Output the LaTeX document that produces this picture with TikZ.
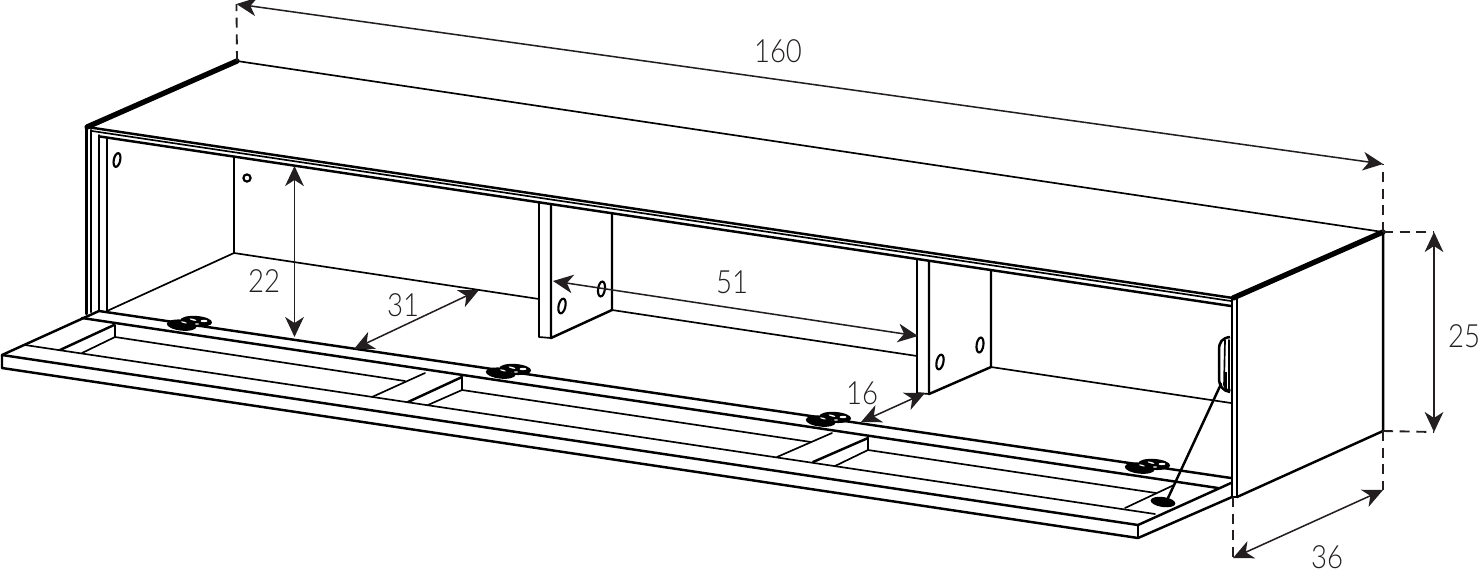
\documentclass[tikz,border=0pt]{standalone}
\usepackage{fontspec}
\setmainfont{Lato Light}
\usetikzlibrary{arrows.meta}
\definecolor{dimc}{HTML}{231F20}
\tikzset{
  x=0.75pt,y=-0.75pt,
  ln/.style={line width=1.85pt,black,line cap=round,line join=round},
  thn/.style={line width=1.25pt,black,line cap=round,line join=round},
  thk/.style={line width=4pt,black,line cap=round},
  dimline/.style={line width=1.15pt,dimc,{Stealth[length=15pt,width=14pt,inset=4.5pt]}-{Stealth[length=15pt,width=14pt,inset=4.5pt]}},
  ext/.style={line width=1.4pt,dimc,dash pattern=on 7.5pt off 5pt},
  hole/.style={line width=1.6pt,black},
  lbl/.style={font=\fontsize{24pt}{26pt}\selectfont,text=dimc,inner sep=0pt,xscale=.86},
  clip blob/.pic={
    \fill[black,rotate=-6] (-8,3) ellipse (15 and 5.5);
    \fill[black,rotate=-4] (6,-2) ellipse (16 and 5.5);
    \fill[white,rotate=-15] (2,-4) ellipse (3.5 and .8);
    \fill[white,rotate=-15] (-6,1) ellipse (3 and .7);
    \fill[white] (14,-2) ellipse (3.5 and 1.2);
    \fill[white] (7,1) ellipse (2 and .7);
  }
}
\begin{document}
\begin{tikzpicture}
\useasboundingbox (0,0) rectangle (1480,576);
% cabinet outline
\coordinate (tbl) at (237,61);
\coordinate (tbr) at (1383,232);
\coordinate (tfl) at (87,127);
\coordinate (tfr) at (1233,298);
\coordinate (bfr) at (1233,497);
\coordinate (bbr) at (1383,431);
\draw[thk] (tbl) -- (tfl);
\draw[thk] (tbr) -- (tfr);
\draw[thn] (tbl) -- (tbr);
\draw[ln] (tfl) -- (tfr);
\draw[thn] (92,131) -- (1231,301);
\draw[ln] (100,136.5) -- (1231,306);
% right side
\draw[ln] (1232,298) -- (1232,497) -- (1237,497) -- (1237,298);
\draw[ln] (1237,497) -- (bbr) -- (tbr);
% left post
\draw[ln] (86.5,127) -- (86.5,314);
\draw[ln] (91,130) -- (91,312);
\draw[thn] (99,135) -- (99,311);
\draw[ln] (107,138) -- (107,311);
% interior back
\draw[thn] (234,157) -- (234,253);
\draw[thn] (107,311) -- (234,253) -- (539,299);
\draw[thn] (612,310) -- (917,356);
\draw[thn] (991,367) -- (1231,403);
% divider 1
\draw[thn] (539,203) -- (539,337) -- (551,338);
\draw[ln] (551,205) -- (551,338) -- (612,310) -- (612,214);
% divider 2
\draw[thn] (917,259) -- (917,393) -- (929,394);
\draw[ln] (929,261) -- (929,394) -- (991,367) -- (991,270);
% flap
\draw[ln] (2,355) -- (99,311) -- (1231,478);
\draw[ln] (2,355) -- (1138,525) -- (1231,483);
\draw[ln] (2,355) -- (2,368) -- (1138,538) -- (1232,497);
\draw[thn] (1138,525) -- (1138,538);
\draw[ln] (82,318) -- (1218,488);
\draw[thn] (25,345) -- (1155,514);
% recess
\draw[ln] (60,350) -- (114,325);
\draw[thn] (115,325) -- (115,337);
\draw[thn] (82,353) -- (115,337) -- (405,381);
\draw[thn] (372,397) -- (425,373);
\draw[ln] (408,402) -- (462,377);
\draw[thn] (462,377) -- (462,390);
\draw[thn] (428,405) -- (462,390) -- (811,442);
\draw[thn] (777,457) -- (832,433);
\draw[ln] (813,462) -- (868,438);
\draw[thn] (868,438) -- (868,450);
\draw[thn] (835,466) -- (868,450) -- (1156,493);
\draw[thn] (1125,508) -- (1174,485);
% holes
\draw[hole,rotate around={-12:(117,160)}] (117,160) ellipse (3.2 and 7);
\draw[hole] (247,178) circle (3.6);
\draw[hole,rotate around={-12:(562,306)}] (562,306) ellipse (3.4 and 7.5);
\draw[hole,rotate around={-8:(601.5,289)}] (601.5,289) ellipse (3.4 and 7.5);
\draw[hole,rotate around={-12:(940,362)}] (940,362) ellipse (3.4 and 7.5);
\draw[hole,rotate around={-8:(980,345)}] (980,345) ellipse (3.4 and 7.5);
% clips
\pic at (190,323) {clip blob};
\pic at (509,371) {clip blob};
\pic at (829,419) {clip blob};
\pic at (1148,466) {clip blob};
% stay
\draw[line width=1.9pt] (1230,337) .. controls (1222,338) and (1219,342) .. (1219,350) -- (1219,378) .. controls (1219,386) and (1223,391) .. (1230,392);
\draw[thn] (1225,340) -- (1224,385) .. controls (1224,388) and (1226,390) .. (1230,390);
\draw[thn] (1229,340) -- (1229,390);
\draw[line width=2pt] (1226,372) -- (1226,390);
\draw[ln] (1221,384) -- (1168,498);
\fill[black,rotate around={-8:(1163,502)}] (1163,502) ellipse (12.5 and 5);
% dimensions
\coordinate (d160a) at (236.5,4);
\coordinate (d160b) at (1383,164);
\coordinate (d25a) at (1434,232);
\coordinate (d25b) at (1434,432);
\coordinate (d36a) at (1233,558);
\coordinate (d36b) at (1383,490);
\coordinate (d22a) at (294.5,166);
\coordinate (d22b) at (294.5,337);
\coordinate (d31a) at (354,349);
\coordinate (d31b) at (479,290);
\coordinate (d51a) at (553,281);
\coordinate (d51b) at (918,336);
\coordinate (d16a) at (861,422);
\coordinate (d16b) at (925,393);
\draw[dimline] (d160a) -- (d160b);
\draw[dimline] (d25a) -- (d25b);
\draw[dimline] (d36a) -- (d36b);
\draw[dimline] (d22a) -- (d22b);
\draw[dimline] (d31a) -- (d31b);
\draw[dimline] (d51a) -- (d51b);
\draw[dimline] (d16a) -- (d16b);
\draw[ext] (tbl) -- (d160a);
\draw[ext] (tbr) -- (d160b);
\draw[ext] (tbr) -- (d25a);
\draw[ext] (bbr) -- (d25b);
\draw[ext] (bbr) -- (d36b);
\draw[ext] (1233,497) -- (d36a);
% labels
\node[lbl] (l160) at (778,51) {160};
\node[lbl] (l22) at (264,281) {22};
\node[lbl] (l31) at (403,305) {31};
\node[lbl] (l51) at (732,282) {51};
\node[lbl] (l16) at (862,393) {16};
\node[lbl] (l25) at (1464,336) {25};
\node[lbl] (l36) at (1327,557) {36};
\end{tikzpicture}
\end{document}
